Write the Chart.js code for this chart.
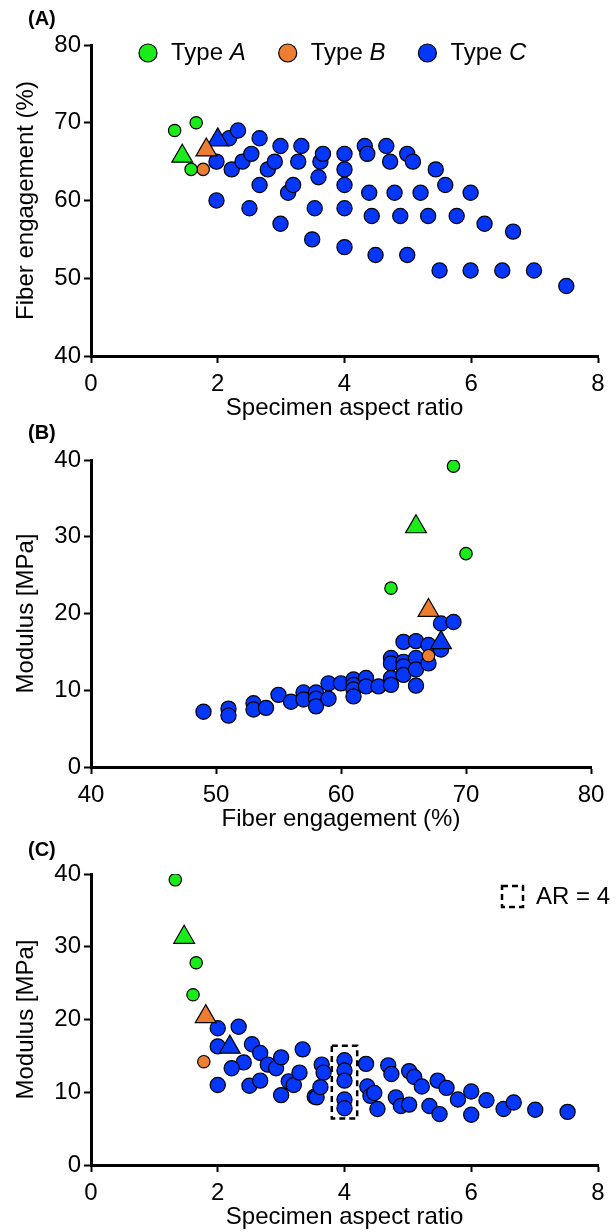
<!DOCTYPE html>
<html>
<head>
<meta charset="utf-8">
<script src="https://cdn.jsdelivr.net/npm/chart.js@4.4.0/dist/chart.umd.min.js"></script>
<style>
  body { margin: 0; background: #fff; width: 616px; height: 1232px; overflow: hidden; position: relative; }
  .panel { position: absolute; left: 0; width: 616px; }
</style>
</head>
<body>
<div class="panel" style="top:0;height:422px"><canvas id="chartA"></canvas></div>
<div class="panel" style="top:420px;height:413px"><canvas id="chartB"></canvas></div>
<div class="panel" style="top:835px;height:396px"><canvas id="chartC"></canvas></div>
<script>
// ---- panel A: aspect ratio vs fiber engagement
const aGreenX = [1.32, 1.66, 1.58];
const aGreenY = [69, 70, 64];
const aOrangeX = [1.77];
const aOrangeY = [64];
const aMeanX = [1.44, 1.82, 2.0];
const aMeanY = [65.7, 66.5, 67.8];
const aBlueX = [1.98, 1.98, 2.18, 2.32, 2.22, 2.39, 2.53, 2.66, 2.66, 2.50,
  2.79, 2.90, 2.99, 2.99, 3.11, 3.19, 3.32, 3.27, 3.49, 3.53,
  3.59, 3.62, 3.66, 4.0, 4.0, 4.0, 4.0, 4.0,
  4.32, 4.36, 4.39, 4.43, 4.49, 4.66, 4.72, 4.79, 4.88, 4.99,
  5.08, 4.99, 5.20, 5.32, 5.44, 5.59, 5.50, 5.77, 5.99, 5.99,
  6.21, 6.49, 6.66, 6.99, 7.5];
const aBlueY = [65, 60, 68, 69, 64, 65, 66, 68, 62, 59,
  64, 65, 67, 57, 61, 62, 67, 65, 55, 59,
  63, 65, 66, 66, 64, 62, 59, 54,
  67, 66, 61, 58, 53, 67, 65, 61, 58, 66,
  65, 53, 61, 58, 64, 62, 51, 58, 61, 51,
  57, 51, 56, 51, 49];

// ---- panel B: fiber engagement vs modulus
const bGreenX = [69, 70, 64];
const bGreenY = [39.2, 27.8, 23.3];
const bOrangeX = [67];
const bOrangeY = [14.5];
const bMeanX = [66, 67, 68];
const bMeanY = [31.3, 20.4, 16.2];
const bBlueX = [49, 51, 51, 53, 53, 54, 55, 56, 57, 57,
  58, 58, 58, 59, 59, 60, 61, 61, 61, 61,
  62, 62, 63, 64, 64, 64, 64, 65, 65, 65,
  65, 66, 66, 66, 66, 67, 67, 68, 68, 69];
const bBlueY = [7.2, 7.6, 6.7, 8.3, 7.5, 7.7, 9.4, 8.5, 9.7, 8.8,
  9.7, 8.9, 7.9, 10.9, 8.9, 10.9, 11.4, 10.7, 10.1, 9.2,
  11.6, 10.5, 10.5, 14.2, 13.5, 11.6, 10.7, 16.3, 13.7, 13.1,
  12.0, 16.4, 14.2, 12.7, 10.6, 15.9, 13.5, 18.7, 15.3, 18.9];

// ---- panel C: aspect ratio vs modulus
const cGreenX = [1.33, 1.66, 1.61];
const cGreenY = [39.2, 27.8, 23.4];
const cOrangeX = [1.78];
const cOrangeY = [14.2];
const cMeanX = [1.47, 1.81, 2.19];
const cMeanY = [31.3, 20.4, 16.2];
const cBlueX = [2.0, 2.33, 2.0, 2.0, 2.41, 2.22, 2.5, 2.54, 2.67, 2.67,
  2.79, 2.92, 3.0, 3.0, 3.12, 3.2, 3.29, 3.34, 3.53, 3.56,
  3.64, 3.67, 3.62, 4.0, 4.0, 4.0, 4.0, 4.0,
  4.34, 4.36, 4.41, 4.47, 4.52, 4.69, 4.74, 4.81, 4.89, 5.02,
  5.02, 5.1, 5.22, 5.34, 5.47, 5.5, 5.61, 5.79, 6.0, 6.0,
  6.24, 6.51, 6.67, 7.01, 7.52];
const cBlueY = [18.8, 19.0, 16.3, 11.0, 14.1, 13.3, 10.9, 16.6, 15.4, 11.6,
  13.8, 13.3, 14.8, 9.6, 11.5, 11.0, 12.7, 15.9, 9.4, 9.3,
  13.8, 12.7, 10.7, 14.4, 13.0, 11.6, 9.0, 7.8,
  13.9, 10.8, 9.5, 9.9, 7.7, 13.7, 12.5, 9.3, 8.1, 8.3,
  12.9, 12.1, 10.8, 8.1, 11.6, 7.0, 10.6, 9.0, 10.1, 6.9,
  8.9, 7.7, 8.6, 7.6, 7.3];
// AR = 4 group outline (data units: x from, x to, y from, y to)
const arBox = [3.8, 4.2, 6.4, 16.4];

const GREEN = '#19ec19';
const ORANGE = '#ed7d31';
const BLUE = '#0537fa';
const FONT = '"Liberation Sans", Arial, sans-serif';

function pts(xs, ys) {
  return xs.map(function (x, i) { return { x: x, y: ys[i] }; });
}

function sets(gx, gy, ox, oy, mx, my, bx, by) {
  return [
    { data: pts(mx.slice(0, 1), my.slice(0, 1)), backgroundColor: GREEN, pointStyle: 'triangle', pointRadius: 12, order: 0 },
    { data: pts(mx.slice(1, 2), my.slice(1, 2)), backgroundColor: ORANGE, pointStyle: 'triangle', pointRadius: 12, order: 0 },
    { data: pts(mx.slice(2, 3), my.slice(2, 3)), backgroundColor: BLUE, pointStyle: 'triangle', pointRadius: 12, order: 0 },
    { data: pts(gx, gy), backgroundColor: GREEN, pointRadius: 6.2, order: 1 },
    { data: pts(ox, oy), backgroundColor: ORANGE, pointRadius: 6.2, order: 1 },
    { data: pts(bx, by), backgroundColor: BLUE, pointRadius: 7.6, order: 2 }
  ];
}

function axis(min, max, step, title, isX) {
  return {
    type: 'linear', min: min, max: max,
    ticks: { stepSize: step, color: '#000', font: { family: FONT, size: 24 }, padding: isX ? 7 : 3 },
    grid: { drawOnChartArea: false, drawTicks: true, tickLength: 7, tickWidth: 2, color: '#000' },
    border: { color: '#000', width: 3 },
    title: { display: true, text: title, color: '#000', font: { family: FONT, size: 24, lineHeight: 1 },
      padding: isX ? { top: 0, bottom: 2 } : { top: 14, bottom: 0 } },
    afterFit: function (s) { if (isX) { s.height = 66; } else { s.width = 91; } }
  };
}

// panel letter, e.g. (A)
const letterPlugin = {
  id: 'letter',
  afterDraw: function (chart, args, opts) {
    const ctx = chart.ctx;
    ctx.save();
    ctx.font = 'bold 20px ' + FONT;
    ctx.fillStyle = '#000';
    ctx.textBaseline = 'middle';
    ctx.fillText(opts.text, 28, opts.y);
    ctx.restore();
  }
};

// legend row of panel A with italic type letters
const typeLegend = {
  id: 'typeLegend',
  afterDraw: function (chart) {
    const ctx = chart.ctx;
    const a = chart.chartArea;
    const items = [[GREEN, 'A'], [ORANGE, 'B'], [BLUE, 'C']];
    let x = a.left + 57;
    const y = a.top + 8;
    ctx.save();
    ctx.textBaseline = 'middle';
    items.forEach(function (it) {
      ctx.beginPath();
      ctx.arc(x, y, 9, 0, Math.PI * 2);
      ctx.fillStyle = it[0];
      ctx.fill();
      ctx.lineWidth = 1.2;
      ctx.strokeStyle = '#000';
      ctx.stroke();
      ctx.fillStyle = '#000';
      let tx = x + 23;
      ctx.font = '24px ' + FONT;
      ctx.fillText('Type ', tx, y);
      tx += ctx.measureText('Type ').width;
      ctx.font = 'italic 24px ' + FONT;
      ctx.fillText(it[1], tx, y);
      tx += ctx.measureText(it[1]).width;
      x = tx + 42;
    });
    ctx.restore();
  }
};

// dashed AR = 4 box and its key in panel C
const arPlugin = {
  id: 'arBox',
  afterDatasetsDraw: function (chart) {
    const ctx = chart.ctx;
    const xs = chart.scales.x, ys = chart.scales.y;
    const a = chart.chartArea;
    ctx.save();
    ctx.setLineDash([6, 4]);
    ctx.lineWidth = 2.5;
    ctx.strokeStyle = '#000';
    const x1 = xs.getPixelForValue(arBox[0]), x2 = xs.getPixelForValue(arBox[1]);
    const y1 = ys.getPixelForValue(arBox[3]), y2 = ys.getPixelForValue(arBox[2]);
    ctx.strokeRect(x1, y1, x2 - x1, y2 - y1);
    ctx.strokeRect(a.right - 96, a.top + 12, 21, 21);
    ctx.setLineDash([]);
    ctx.fillStyle = '#000';
    ctx.font = '24px ' + FONT;
    ctx.textBaseline = 'middle';
    ctx.fillText('AR = 4', a.right - 62, a.top + 23);
    ctx.restore();
  }
};

function makeChart(id, datasets, xAxis, yAxis, padTop, padRight, letter, extra) {
  return new Chart(document.getElementById(id), {
    type: 'scatter',
    data: { datasets: datasets },
    options: {
      responsive: true,
      maintainAspectRatio: false,
      animation: false,
      elements: { point: { borderColor: '#000', borderWidth: 1.2, hoverRadius: 0 } },
      layout: { padding: { top: padTop, right: padRight, left: 0, bottom: 0 } },
      plugins: { legend: { display: false }, tooltip: { enabled: false }, letter: letter },
      scales: { x: xAxis, y: yAxis }
    },
    plugins: [letterPlugin].concat(extra)
  });
}

makeChart('chartA',
  sets(aGreenX, aGreenY, aOrangeX, aOrangeY, aMeanX, aMeanY, aBlueX, aBlueY),
  axis(0, 8, 2, 'Specimen aspect ratio', true),
  axis(40, 80, 10, 'Fiber engagement (%)', false),
  45, 18, { text: '(A)', y: 19 }, [typeLegend]);

makeChart('chartB',
  sets(bGreenX, bGreenY, bOrangeX, bOrangeY, bMeanX, bMeanY, bBlueX, bBlueY),
  axis(40, 80, 10, 'Fiber engagement (%)', true),
  axis(0, 40, 10, 'Modulus [MPa]', false),
  40, 25, { text: '(B)', y: 13 }, []);

makeChart('chartC',
  sets(cGreenX, cGreenY, cOrangeX, cOrangeY, cMeanX, cMeanY, cBlueX, cBlueY),
  axis(0, 8, 2, 'Specimen aspect ratio', true),
  axis(0, 40, 10, 'Modulus [MPa]', false),
  39, 18, { text: '(C)', y: 15 }, [arPlugin]);
</script>
</body>
</html>
